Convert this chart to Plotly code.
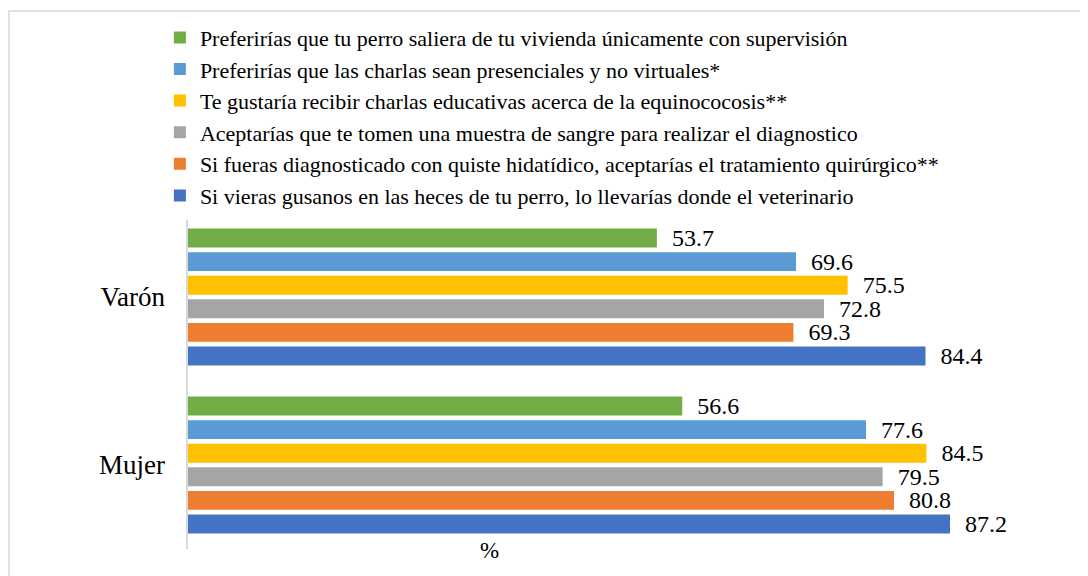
import plotly.graph_objects as go

# categories and series
groups = ['Varón', 'Mujer']
series_names = [
    'Preferirías que tu perro saliera de tu vivienda únicamente con supervisión',
    'Preferirías que las charlas sean presenciales y no virtuales*',
    'Te gustaría recibir charlas educativas acerca de la equinococosis**',
    'Aceptarías que te tomen una muestra de sangre para realizar el diagnostico',
    'Si fueras diagnosticado con quiste hidatídico, aceptarías el tratamiento quirúrgico**',
    'Si vieras gusanos en las heces de tu perro, lo llevarías donde el veterinario',
]
varon = [53.7, 69.6, 75.5, 72.8, 69.3, 84.4]
mujer = [56.6, 77.6, 84.5, 79.5, 80.8, 87.2]
colors = ['#70AD47', '#5B9BD5', '#FFC000', '#A5A5A5', '#ED7D31', '#4472C4']

FONT = 'Liberation Serif, Times New Roman, serif'

fig = go.Figure()
for i, name in enumerate(series_names):
    fig.add_trace(go.Bar(
        y=groups, x=[varon[i], mujer[i]], name=name, orientation='h',
        marker=dict(color=colors[i], line=dict(width=0)),
        text=[f'{varon[i]:.1f}', f'{mujer[i]:.1f}'],
        texttemplate='  %{text}',
        textposition='outside', cliponaxis=False, constraintext='none',
        textfont=dict(family=FONT, size=24, color='#000000'),
    ))

# chart border (paper coords relative to plot area)
fig.add_shape(type='rect', xref='paper', yref='paper',
              x0=-0.2034, x1=1.1, y0=-0.2, y1=1.601,
              line=dict(color='#D9D9D9', width=1.5), fillcolor='rgba(0,0,0,0)')
# category axis line
fig.add_shape(type='line', xref='paper', yref='paper', x0=0, x1=0, y0=0, y1=0.979,
              line=dict(color='#D9D9D9', width=2))

fig.add_annotation(text='%', xref='paper', yref='paper', x=0.346, y=0.04,
                   xanchor='center', yanchor='top', showarrow=False,
                   font=dict(family=FONT, size=23, color='#000000'))

fig.update_layout(
    width=1080, height=568,
    margin=dict(l=179, r=26, t=205, b=27, autoexpand=False),
    paper_bgcolor='white', plot_bgcolor='white',
    barmode='group', bargap=0.157, bargroupgap=0.2,
    font=dict(family=FONT, size=22, color='#000000'),
    legend=dict(orientation='v', x=-0.031, xanchor='left', y=1.5845, yanchor='top',
                font=dict(family=FONT, size=22, color='#000000'),
                bgcolor='rgba(0,0,0,0)', tracegroupgap=0, itemclick=False),
    showlegend=True,
)
fig.update_xaxes(range=[0, 100], showgrid=False, zeroline=False, showticklabels=False,
                 showline=False)
fig.update_yaxes(autorange='reversed', showgrid=False, showline=False, zeroline=False,
                 ticks='', ticklabelstandoff=21, automargin=False,
                 tickfont=dict(family=FONT, size=27, color='#000000'))

fig.write_html('out.html')
